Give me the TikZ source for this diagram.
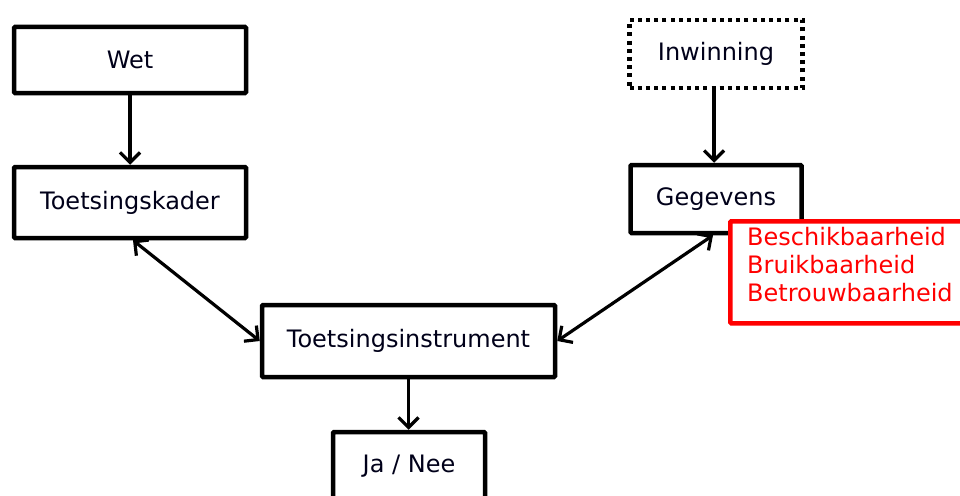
\documentclass[tikz,border=0pt]{standalone}
\usepackage{fontspec}
\setmainfont{DejaVu Sans}
\usetikzlibrary{arrows.meta}
\begin{document}
\begin{tikzpicture}[x=1pt,y=-1pt,
  box/.style={draw=black,line width=4.5pt,rounded corners=1pt,inner sep=0pt,align=center,
    font=\fontsize{24pt}{28pt}\selectfont,text=black!90!blue},
  conn/.style={line width=3.2pt,-{Straight Barb[length=10pt,width=20pt,line width=3.2pt]}},
  dconn/.style={line width=3.2pt,{Straight Barb[length=10pt,width=20pt,line width=3.2pt]}-{Straight Barb[length=10pt,width=20pt,line width=3.2pt]}}]
\useasboundingbox (0,0) rectangle (960,495);
\clip (0,0) rectangle (960,495);
\node[box,minimum width=232pt,minimum height=66pt] (wet) at (130,60) {Wet};
\node[box,minimum width=232pt,minimum height=71pt] (kader) at (130,202.5) {Toetsingskader};
\node[box,dash pattern=on 4pt off 4.2pt,rounded corners=0pt,minimum width=173pt,minimum height=68pt] (inw) at (716,54) {Inwinning};
\node[box,minimum width=171pt,minimum height=68pt] (geg) at (716,199) {Gegevens};
\node[box,minimum width=293pt,minimum height=72pt] (inst) at (408.5,341) {Toetsingsinstrument};
\node[box,minimum width=152pt,minimum height=80pt] (ja) at (409,472) {};
\node[font=\fontsize{24pt}{28pt}\selectfont,text=black!90!blue] (jat) at (409,466) {Ja / Nee};
\node[draw=red,fill=white,line width=4.5pt,rounded corners=1pt,anchor=north west,
  minimum width=250pt,minimum height=102pt] (red) at (728,219) {};
\node[anchor=north west,align=left,text=red,inner sep=0pt,
  font=\fontsize{24pt}{28pt}\selectfont] (redt) at (747,227) {Beschikbaarheid\\Bruikbaarheid\\Betrouwbaarheid};
\draw[conn] (wet) -- (kader);
\draw[conn] ([xshift=-2pt]inw.south) -- ([xshift=-2pt]geg.north);
\draw[conn] (inst.south) -- (inst.south |- ja.north);
\draw[dconn] ([xshift=3pt]kader.south) -- (inst.west);
\draw[dconn] (inst.east) -- ([xshift=-3pt]geg.south);
\end{tikzpicture}
\end{document}
